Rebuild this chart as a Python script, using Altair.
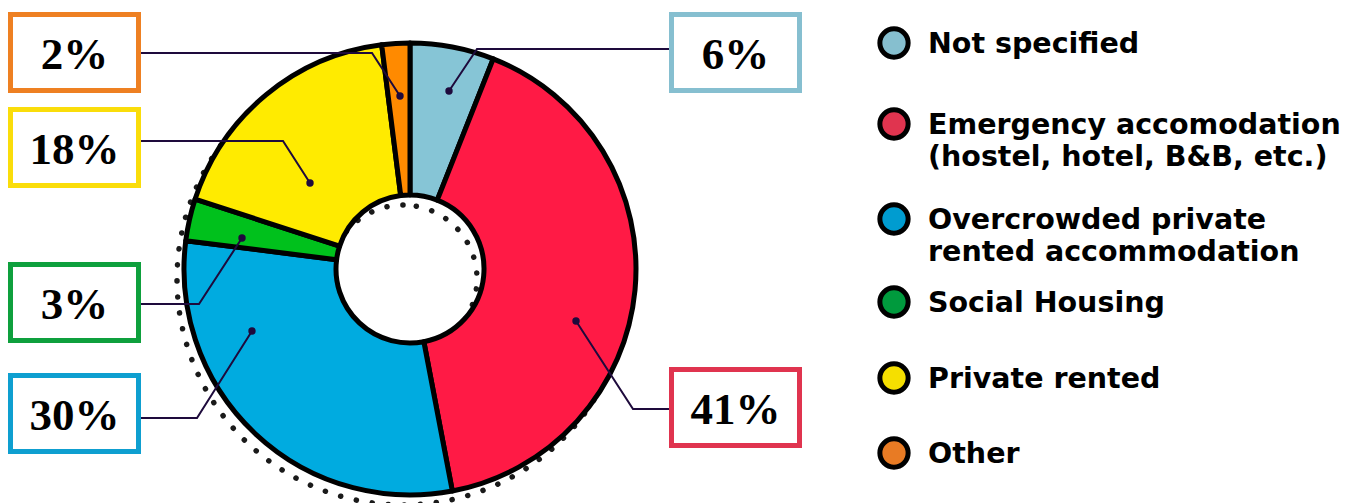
import altair as alt
import pandas as pd

# ---------------- data ----------------
categories = [
    "Not specified",
    "Emergency accomodation",
    "Overcrowded private rented accommodation",
    "Social Housing",
    "Private rented",
    "Other",
]
shares = [6, 41, 30, 3, 18, 2]
legend_labels = [
    "Not specified",
    "Emergency accomodation\n(hostel, hotel, B&B, etc.)",
    "Overcrowded private\nrented accommodation",
    "Social Housing",
    "Private rented",
    "Other",
]

# ---------------- styles ----------------
slice_colors = ["#86C5D6", "#FF1A45", "#00ABE0", "#00C11C", "#FFEB00", "#FF8A00"]
legend_colors = ["#86BFCF", "#E0344F", "#009CD0", "#009A3D", "#F5DF00", "#E87B24"]
box_colors = ["#86BFD0", "#E0344F", "#0E9FD0", "#0EA03D", "#FADD0A", "#EE8022"]
LEADER = "#1E0A3C"

# ---------------- layout (pixels) ----------------
W, H = 1359, 503
CX, CY = 410, 269
R_OUT, R_IN = 226, 74
SH_X, SH_Y = 403, 279
box_left = [671.5, 671.5, 10.5, 10.5, 10.5, 10.5]
box_top = [14.5, 369.5, 375.5, 264.5, 109.5, 14.5]
BOX_W, BOX_H = 128, 76
leader_paths = [
    [(449, 91), (477, 49), (669, 49)],
    [(576, 321), (633, 409), (669, 409)],
    [(252, 331), (197, 418), (141, 418)],
    [(242, 238), (199, 304), (141, 304)],
    [(310, 183), (283, 141), (141, 141)],
    [(400, 96), (372, 53), (141, 53)],
]
legend_y = [43, 124, 219, 302, 378, 453]
LEG_SYM_X, LEG_TEXT_X = 894, 928

xs = alt.Scale(domain=[0, W], range=[0, W])
ys = alt.Scale(domain=[0, H], range=[0, H])


def X(f):
    return alt.X(f, type="quantitative", scale=xs, axis=None)


def Y(f):
    return alt.Y(f, type="quantitative", scale=ys, axis=None)


pie_df = pd.DataFrame({"category": categories, "share": shares, "idx": range(len(shares))})

box_df = pd.DataFrame({
    "category": categories,
    "x": box_left,
    "x2": [b + BOX_W for b in box_left],
    "y": box_top,
    "y2": [b + BOX_H for b in box_top],
    "cx": [b + BOX_W / 2 for b in box_left],
    "cy": [b + BOX_H / 2 + 2 for b in box_top],
    "label": [f"{s}%" for s in shares],
})

lines_rows = []
for cat, path in zip(categories, leader_paths):
    for i, (px, py) in enumerate(path):
        lines_rows.append({"category": cat, "i": i, "x": px, "y": py})
lines_df = pd.DataFrame(lines_rows)
dots_df = lines_df[lines_df["i"] == 0]

leg_df = pd.DataFrame({
    "category": categories,
    "label": legend_labels,
    "sx": [LEG_SYM_X] * len(categories),
    "tx": [LEG_TEXT_X] * len(categories),
    "y": legend_y,
    "ty": [v + 10 for v in legend_y],
})

# dotted shadow ring
shadow = alt.Chart(pd.DataFrame({"a": [1]})).mark_arc(
    theta=0, theta2=6.2832, radius=R_OUT, radius2=R_IN,
    fillOpacity=0, stroke="#1a1a1a", strokeWidth=5.5,
    strokeDash=[0.1, 16], strokeCap="round",
).encode(x=alt.value(SH_X), y=alt.value(SH_Y))

pie = alt.Chart(pie_df).mark_arc(
    radius=R_OUT, radius2=R_IN, stroke="black", strokeWidth=5, strokeJoin="round"
).encode(
    theta=alt.Theta("share:Q", stack=True),
    order=alt.Order("idx:Q"),
    color=alt.Color("category:N", scale=alt.Scale(domain=categories, range=slice_colors), legend=None),
    x=alt.value(CX),
    y=alt.value(CY),
)

leaders = alt.Chart(lines_df).mark_line(color=LEADER, strokeWidth=2).encode(
    x=X("x"), y=Y("y"), detail="category:N", order="i:Q"
)
dots = alt.Chart(dots_df).mark_point(filled=True, color=LEADER, size=55, opacity=1).encode(
    x=X("x"), y=Y("y")
)

boxes = alt.Chart(box_df).mark_rect(fill="white", strokeWidth=5).encode(
    x=X("x"), x2="x2", y=Y("y"), y2="y2",
    stroke=alt.Stroke("category:N", scale=alt.Scale(domain=categories, range=box_colors), legend=None),
)
box_text = alt.Chart(box_df).mark_text(
    font="Liberation Serif", fontWeight="bold", fontSize=45, color="black",
    align="center", baseline="middle",
).encode(x=X("cx"), y=Y("cy"), text="label:N")

leg_sym = alt.Chart(leg_df).mark_point(
    filled=True, shape="circle", size=800, stroke="black", strokeWidth=5, opacity=1
).encode(
    x=X("sx"), y=Y("y"),
    fill=alt.Fill("category:N", scale=alt.Scale(domain=categories, range=legend_colors), legend=None),
)
leg_text = alt.Chart(leg_df).mark_text(
    font="DejaVu Sans", fontWeight="bold", fontSize=28.5, color="black",
    align="left", baseline="alphabetic", lineBreak="\n", lineHeight=32,
).encode(x=X("tx"), y=Y("ty"), text="label:N")

chart = alt.layer(
    shadow, pie, leaders, dots, boxes, box_text, leg_sym, leg_text
).resolve_scale(
    color="independent", fill="independent", stroke="independent"
).properties(
    width=W, height=H, padding=0, autosize=alt.AutoSizeParams(type="none"),
    background="white",
).configure_view(stroke=None)

chart.save("out.html", embed_options={"renderer": "svg", "actions": False})
